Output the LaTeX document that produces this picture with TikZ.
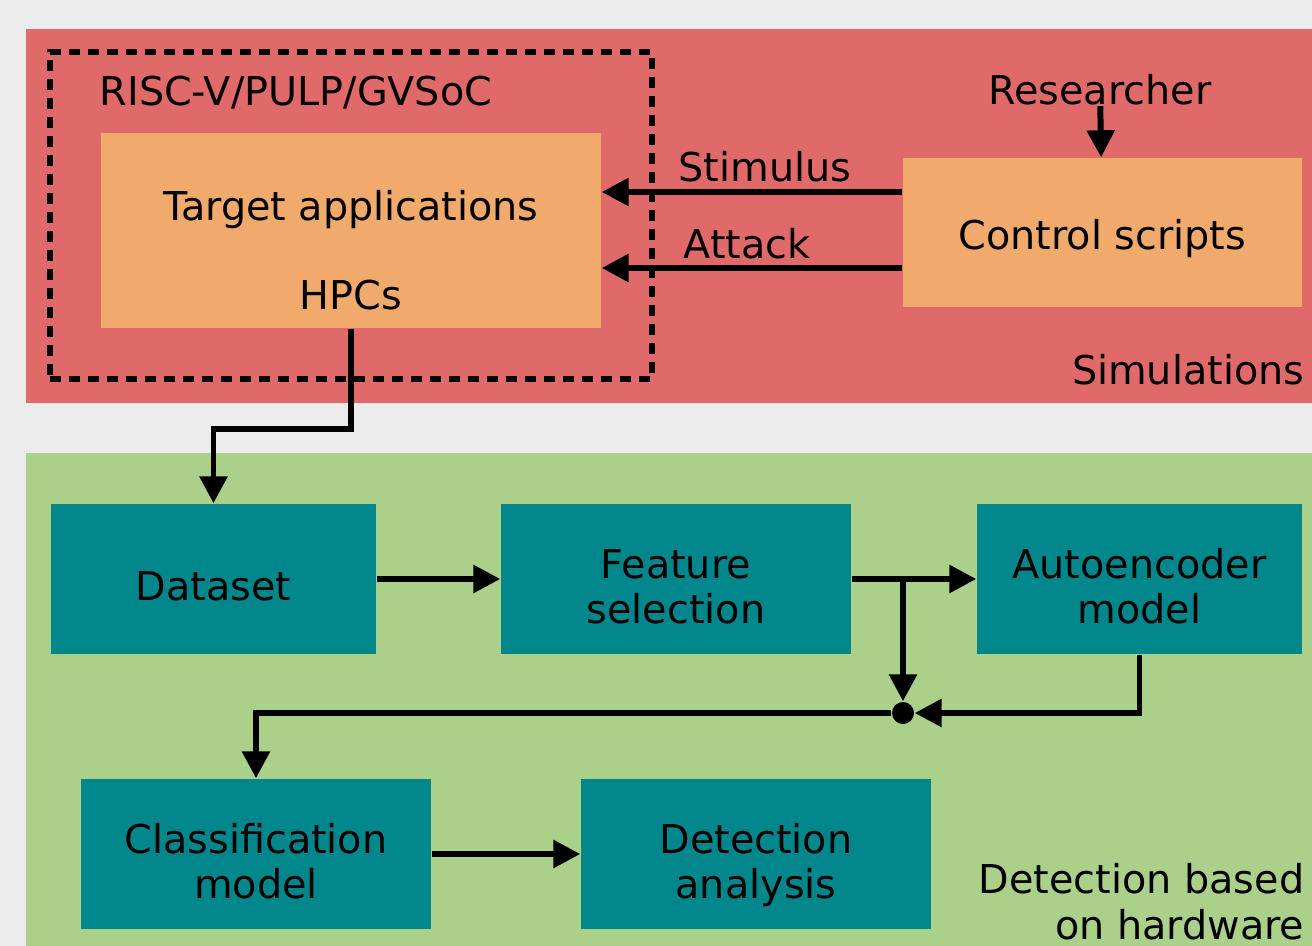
\documentclass[tikz,border=0pt]{standalone}
\usepackage{fontspec}
\setmainfont{DejaVu Sans}
\usetikzlibrary{arrows.meta}

\definecolor{bggray}{HTML}{EBEBEB}
\definecolor{simred}{HTML}{E06A6A}
\definecolor{hwgreen}{HTML}{AAD08A}
\definecolor{boxorange}{HTML}{F0AA6B}
\definecolor{boxteal}{HTML}{00878C}

\tikzset{
  txt/.style={font=\fontsize{11.3pt}{13pt}\selectfont, inner sep=0pt},
  orangebox/.style={txt, fill=boxorange, draw=none},
  tealbox/.style={txt, fill=boxteal, draw=none, align=center,
    minimum height=1.50cm, text height=14pt, text depth=1.6pt},
  tealboxtwo/.style={tealbox, text height=28pt, text depth=2.4pt},
  conn/.style={line width=1.7pt, -{Triangle[length=0.27cm,width=0.27cm]}}
}

\begin{document}
\begin{tikzpicture}
  % Background and the two panels
  \useasboundingbox (0,0) rectangle (13.12,-9.46);
  \fill [bggray] (0,0) rectangle (13.12,-9.46);
  \fill [simred] (0.26,-0.29) rectangle (13.12,-4.03);
  \fill [hwgreen] (0.26,-4.53) rectangle (13.12,-9.46);

  % Simulation part
  \node [draw, line width=1.5pt, dash pattern=on 0.11cm off 0.08cm,
    minimum width=6.02cm, minimum height=3.27cm] (soc) at (3.51,-2.155) {};
  \node [txt, anchor=west] (socname) at (0.99,-0.93) {RISC-V/PULP/GVSoC};

  \node [orangebox, minimum width=5.00cm, minimum height=1.95cm] (target) at (3.51,-2.305) {};
  \node [txt] (tapps) at (3.51,-2.10) {Target applications};
  \node [txt] (hpc) at (3.51,-2.95) {HPCs};

  \node [orangebox, minimum width=3.99cm, minimum height=1.49cm,
    text height=12.4pt, text depth=2.6pt] (ctrl) at (11.025,-2.325) {Control scripts};
  \node [txt] (res) at (11.00,-0.90) {Researcher};
  \node [txt, anchor=east] (simlabel) at (13.05,-3.70) {Simulations};

  \draw [conn] (res) -- (ctrl);
  \draw [conn] ([yshift=0.405cm]ctrl.west) -- ([yshift=0.405cm]ctrl.west -| target.east);
  \draw [conn] ([yshift=-0.355cm]ctrl.west) -- ([yshift=-0.355cm]ctrl.west -| target.east);
  \node [txt] (stim) at (7.65,-1.67) {Stimulus};
  \node [txt] (att) at (7.47,-2.44) {Attack};

  % Detection part
  \node [tealbox, minimum width=3.25cm] (data) at (2.135,-5.79) {Dataset};
  \node [tealboxtwo, minimum width=3.50cm] (feat) at (6.76,-5.79) {Feature\\selection};
  \node [tealboxtwo, minimum width=3.25cm] (auto) at (11.395,-5.79) {Autoencoder\\model};
  \node [tealboxtwo, minimum width=3.50cm] (clf) at (2.56,-8.54) {Classification\\model};
  \node [tealboxtwo, minimum width=3.50cm] (det) at (7.56,-8.54) {Detection\\analysis};
  \node [circle, fill=black, inner sep=0pt, minimum size=0.22cm] (join) at (9.03,-7.13) {};
  \node [txt, anchor=east, align=right] (hwlabel) at (13.05,-9.02) {Detection based\\on hardware};

  % Connectors
  \draw [conn] (target.south) -- ++(0,-1.00) -| (data.north);
  \draw [conn] (data) -- (feat);
  \draw [conn] (feat) -- (auto);
  \draw [conn] (feat.east -| join) -- (join);
  \draw [conn] (auto.south) |- (join);
  \draw [conn] (join) -| (clf.north);
  \draw [conn] (clf) -- (det);
\end{tikzpicture}
\end{document}
